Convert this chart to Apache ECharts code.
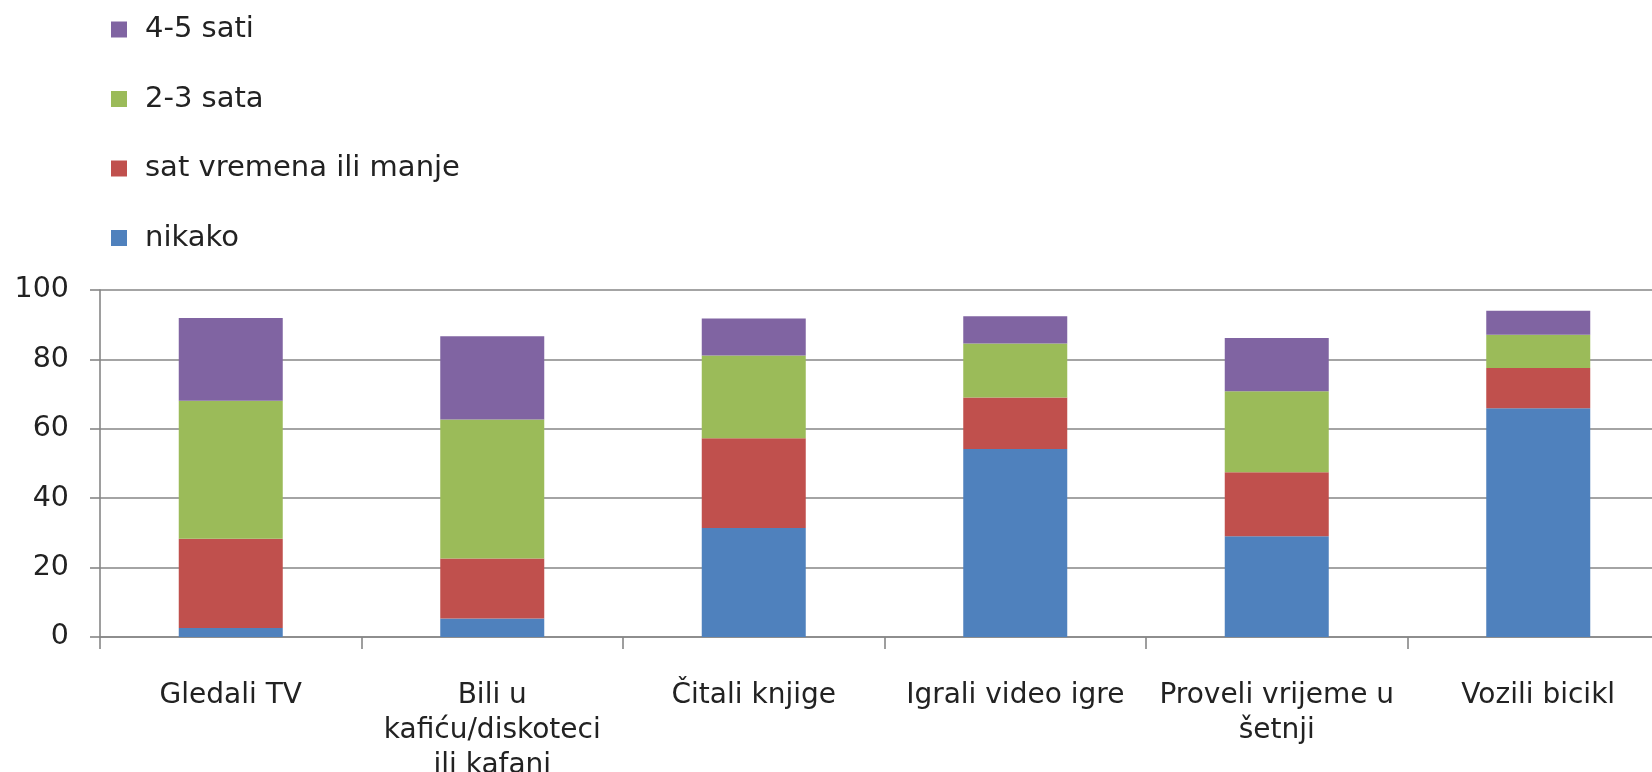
<!DOCTYPE html>
<html>
<head>
<meta charset="utf-8">
<script src="https://cdn.jsdelivr.net/npm/echarts@6/dist/echarts.min.js"></script>
<style>html,body{margin:0;padding:0;background:#fff}#c{width:1652px;height:772px}</style>
</head>
<body>
<div id="c"></div>
<script>
const categories = ["Gledali TV", "Bili u\nkafiću/diskoteci\nili kafani", "Čitali knjige", "Igrali video igre", "Proveli vrijeme u\nšetnji", "Vozili bicikl"];
const seriesNames = ["nikako", "sat vremena ili manje", "2-3 sata", "4-5 sati"];
const nikako = [2.6, 5.3, 31.4, 54.2, 29.0, 65.9];
const satIliManje = [25.7, 17.3, 25.9, 14.8, 18.5, 11.6];
const dvaTriSata = [39.8, 40.1, 23.8, 15.6, 23.3, 9.6];
const cetiriPetSati = [23.8, 24.0, 10.7, 7.8, 15.4, 6.9];
const yTicks = [0, 20, 40, 60, 80, 100];
const colors = ["#4F81BD", "#C0504D", "#9BBB59", "#8064A2"];

const values = [nikako, satIliManje, dvaTriSata, cetiriPetSati];
const font = "DejaVu Sans";
const chart = echarts.init(document.getElementById('c'));
chart.setOption({
  animation: false,
  backgroundColor: '#fff',
  color: colors,
  legend: {
    orient: 'vertical',
    left: 106,
    top: 10,
    itemWidth: 16,
    itemHeight: 16,
    itemGap: 40.5,
    icon: 'rect',
    data: [seriesNames[3], seriesNames[2], seriesNames[1], seriesNames[0]],
    textStyle: { fontFamily: font, fontSize: 29, color: '#222', lineHeight: 28, height: 28, padding: [0, 0, 0, 13] }
  },
  grid: { left: 100, width: 1569, top: 290, bottom: 135, containLabel: false, outerBoundsMode: 'none' },
  xAxis: {
    type: 'category',
    data: categories,
    axisLine: { lineStyle: { color: '#868686', width: 1.6 } },
    axisTick: { show: true, length: 12, lineStyle: { color: '#868686', width: 1.6 } },
    axisLabel: { interval: 0, fontFamily: font, fontSize: 28, color: '#222', margin: 41, lineHeight: 35 }
  },
  yAxis: {
    type: 'value',
    min: yTicks[0],
    max: yTicks[yTicks.length - 1],
    interval: 20,
    axisLine: { show: true, lineStyle: { color: '#868686', width: 1.6 } },
    axisTick: { show: true, length: 10, lineStyle: { color: '#868686', width: 1.6 } },
    splitLine: { lineStyle: { color: '#868686', width: 1.6 } },
    axisLabel: { fontFamily: font, fontSize: 28.5, color: '#222', margin: 31 }
  },
  series: seriesNames.map((n, i) => ({
    name: n,
    type: 'bar',
    stack: 'total',
    barWidth: 104,
    data: values[i],
    itemStyle: { color: colors[i] }
  }))
});
</script>
</body>
</html>
